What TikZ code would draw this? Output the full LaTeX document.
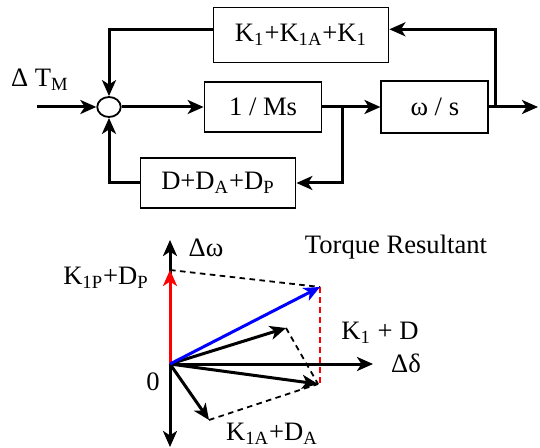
\documentclass[tikz,border=0pt]{standalone}
\usepackage{fontspec}
\setmainfont{Liberation Serif}
\usetikzlibrary{arrows.meta, positioning, shapes.geometric}

\begin{document}
\begin{tikzpicture}[x=0.5pt, y=-0.5pt, >={Stealth[length=8pt, width=7pt, inset=2.2pt]},
  font=\fontsize{13.3}{15}\selectfont,
  block/.style={draw, line width=0.9pt, inner sep=0pt},
  sig/.style={line width=1.5pt},
  vec/.style={->, line width=1.5pt},
  guide/.style={dashed, dash pattern=on 2.8pt off 2.2pt, line width=0.9pt}]
  \useasboundingbox (0,0) rectangle (540,448);

  % block diagram
  \node[draw, ellipse, line width=0.9pt, minimum width=11.75pt, minimum height=10pt, inner sep=0pt]
    (sum) at (109,107) {};
  \node[block, right=41pt of sum, minimum width=58.5pt, minimum height=25pt] (msbox) {1 / Ms};
  \node[block, right=29pt of msbox, minimum width=53.5pt, minimum height=26pt] (wsbox) {ω / s};
  \node[block, minimum width=87.5pt, minimum height=27.5pt] (kbox) at (301,35)
    {K\textsubscript{1}+K\textsubscript{1A}+K\textsubscript{1}};
  \node[block, minimum width=77.5pt, minimum height=25pt] (dbox) at (218,183)
    {D+D\textsubscript{A}+D\textsubscript{P}};
  \node (tm) at (40,80) {Δ T\textsubscript{M}};
  \coordinate (in) at (37,107);
  \coordinate (out) at (538,107);
  \coordinate (b1) at (342,107);
  \coordinate (b2) at (495,107);

  \draw[sig, ->] (in) -- (sum);
  \draw[sig, ->] (sum) -- (msbox);
  \draw[sig, ->] (msbox) -- (wsbox);
  \draw[sig, ->] (wsbox) -- (out);
  \draw[sig, ->] (b2) |- ([yshift=2.85pt]kbox.east);
  \draw[sig, ->] ([yshift=2.85pt]kbox.west) -| (sum);
  \draw[sig, ->] (b1) |- (dbox);
  \draw[sig, ->] (dbox) -| (sum);

  % phasor diagram
  \coordinate (O) at (170,364);
  \coordinate (wtop) at (170,240);
  \coordinate (wbot) at (170,447);
  \coordinate (dend) at (373,364);
  \coordinate (kp) at (170,270);
  \coordinate (res) at (320,287);
  \coordinate (k1) at (286,328);
  \coordinate (sync) at (318,384);
  \coordinate (ka) at (209,420);

  \draw[<->, line width=1.5pt] (wbot) -- (wtop);
  \draw[vec] (O) -- (dend);
  \draw[guide] (kp) -- (res);
  \draw[guide] (k1) -- (sync);
  \draw[guide] (ka) -- (sync);
  \draw[guide, red] (res) -- ([xshift=1pt]sync);
  \draw[vec] (O) -- (k1);
  \draw[vec] (O) -- (sync);
  \draw[vec] (O) -- (ka);
  \draw[vec, red] (O) -- (kp);
  \draw[vec, blue] (O) -- (res);

  \node (dw) at (206,248) {Δω};
  \node (tr) at (396,247) {Torque Resultant};
  \node (kpl) at (106,278) {K\textsubscript{1P}+D\textsubscript{P}};
  \node (k1l) at (380,333) {K\textsubscript{1} + D};
  \node (ddl) at (406,363) {Δδ};
  \node (zero) at (153,382) {0};
  \node (kal) at (272,434) {K\textsubscript{1A}+D\textsubscript{A}};
\end{tikzpicture}
\end{document}
